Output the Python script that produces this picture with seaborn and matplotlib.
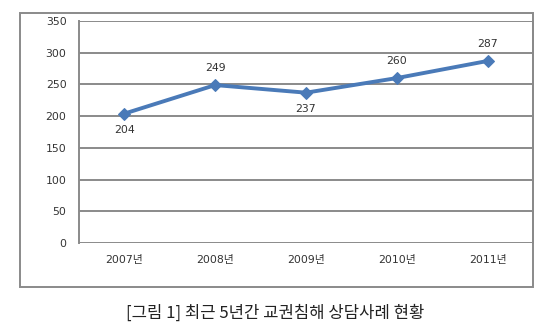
import matplotlib
matplotlib.use("Agg")
import matplotlib.pyplot as plt
from matplotlib.patches import Rectangle
import seaborn as sns
import pandas as pd

years = ["2007년", "2008년", "2009년", "2010년", "2011년"]
cases = [204, 249, 237, 260, 287]
label_above = [False, True, False, True, True]
y_ticks = [0, 50, 100, 150, 200, 250, 300, 350]
caption = "[그림 1] 최근 5년간 교권침해 상담사례 현황"

sns.set_theme(style="white")
plt.rcParams["font.family"] = ["DejaVu Sans", "Noto Sans CJK KR"]

grid_col = "#8a8a8a"
line_col = "#4a7ab8"
text_col = "#333333"

df = pd.DataFrame({"year": years, "cases": cases, "pos": range(len(years))})

fig = plt.figure(figsize=(5.5, 3.3), dpi=100)
ax = fig.add_axes([79 / 550, 1 - 243 / 330, (533 - 79) / 550, (243 - 21) / 330])

for v in y_ticks:
    ax.axhline(v, color=grid_col, lw=1.4, zorder=1)

sns.lineplot(data=df, x="pos", y="cases", ax=ax, color=line_col, lw=2.8,
             marker="D", markersize=6, markeredgecolor=line_col, zorder=3)

for i, (v, up) in enumerate(zip(cases, label_above)):
    ax.annotate(str(v), (i, v), xytext=(0, 12 if up else -12), textcoords="offset points",
                ha="center", va="center", fontsize=7.8, color=text_col)

ax.set_xlim(-0.5, len(years) - 0.5)
ax.set_ylim(0, 350)
ax.set_yticks(y_ticks)
ax.set_yticklabels([str(v) for v in y_ticks], fontsize=7.8, color=text_col)
ax.set_xticks(range(len(years)))
ax.set_xticklabels(years, fontsize=7.8, color=text_col)
ax.tick_params(axis="both", length=0)
ax.tick_params(axis="y", pad=9)
ax.tick_params(axis="x", pad=9)
ax.set_xlabel("")
ax.set_ylabel("")
for side in ["top", "bottom"]:
    ax.spines[side].set_visible(False)
for side in ["left", "right"]:
    ax.spines[side].set_color(grid_col)
    ax.spines[side].set_linewidth(1.4)

# outer chart frame
fig.add_artist(Rectangle((20 / 550, 1 - 287 / 330), (533 - 20) / 550, (287 - 13) / 330,
                         transform=fig.transFigure, fill=False, edgecolor=grid_col, lw=1.4))

fig.text(0.5, 1 - 313 / 330, caption, ha="center", va="center", fontsize=12,
         color="#222222", family=["Noto Sans CJK KR", "DejaVu Sans"])

fig.savefig("out.png", dpi=100)
